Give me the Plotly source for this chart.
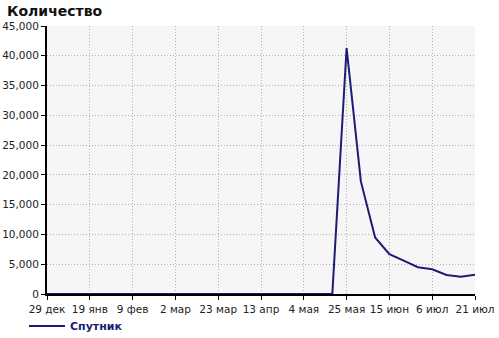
import plotly.graph_objects as go

weeks = list(range(31))
values = [0] * 21 + [41300, 18900, 9500, 6700, 5600, 4500, 4150, 3200, 2900, 3250]

tick_pos = [0, 3, 6, 9, 12, 15, 18, 21, 24, 27, 30]
tick_labels = ["29 дек", "19 янв", "9 фев", "2 мар", "23 мар", "13 апр",
               "4 мая", "25 мая", "15 июн", "6 июл", "21 июл"]

fig = go.Figure()
fig.add_trace(go.Scatter(x=weeks, y=values, mode="lines", name="Спутник",
                         line=dict(color="#1c1c74", width=2)))

font = "DejaVu Sans"
PW, PH = 428, 268
fig.update_layout(
    width=499, height=338,
    margin=dict(l=47, r=24, t=26, b=44, autoexpand=False),
    paper_bgcolor="white", plot_bgcolor="#f6f6f6",
    font=dict(family=font, size=10.5, color="#222"),
    showlegend=True,
    legend=dict(orientation="h", x=-23 / PW, xanchor="left", y=-32 / PH, yanchor="middle",
                itemwidth=36,
                font=dict(family=font, size=11, color="#1c1c74", weight="bold"),
                bgcolor="rgba(0,0,0,0)"),
    annotations=[dict(text="<b>Количество</b>", xref="paper", yref="paper",
                      x=-42 / PW, y=1 + 15 / PH, xanchor="left", yanchor="middle",
                      showarrow=False, font=dict(family=font, size=14, color="#111"))],
)
grid = dict(showgrid=True, gridcolor="#b0b0b0", griddash="1px,2px", gridwidth=1,
            showline=True, linecolor="black", linewidth=2,
            ticks="outside", ticklen=4, tickcolor="black", zeroline=False,
            automargin=False)
fig.update_xaxes(range=[0, 30], tickvals=tick_pos, ticktext=tick_labels, **grid)
fig.update_yaxes(range=[0, 45000], dtick=5000, tickformat=",", **grid)

fig.write_html("out.html")
